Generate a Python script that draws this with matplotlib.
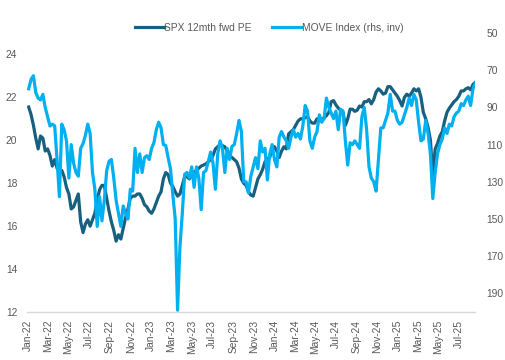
import numpy as np
import pandas as pd
import matplotlib
matplotlib.use("Agg")
from matplotlib import pyplot as plt
from matplotlib import dates as mdates

# weekly observations starting first trading week of 2022
start_date = "2022-01-03"

spx_pe = [
    21.55, 21.2, 20.7, 20.1, 19.6, 20.2, 20.1, 19.5, 19.6, 19.3,
    18.8, 19.1, 18.7, 18.6, 18.6, 18.3, 17.8, 17.5, 16.8, 16.9,
    17.2, 17.5, 16.2, 15.7, 16.1, 16.3, 16.0, 16.3, 16.6, 17.2,
    17.7, 17.9, 17.9, 17.3, 16.7, 16.2, 15.8, 15.3, 15.6, 15.4,
    15.9, 16.4, 16.8, 17.3, 17.4, 17.4, 17.5, 17.5, 17.3, 17.0,
    16.9, 16.7, 16.6, 16.8, 17.1, 17.4, 17.6, 18.2, 18.5, 18.4,
    18.0, 17.85, 17.6, 17.4, 17.5, 17.9, 18.3, 18.3, 18.2, 18.4,
    18.5, 18.6, 18.7, 18.8, 18.85, 18.9, 19.0, 19.1, 19.3, 19.6,
    19.7, 19.8, 19.75, 19.7, 19.5, 19.3, 19.2, 19.1, 19.0, 18.7,
    18.2, 18.0, 17.9, 17.6, 17.45, 17.4, 17.8, 18.2, 18.4, 18.65,
    19.0, 19.15, 19.2, 19.6, 19.7, 19.5, 19.2, 19.5, 19.7, 19.6,
    20.3, 20.4, 20.5, 20.7, 20.9, 21.0, 21.0, 21.05, 21.1, 20.9,
    20.8, 20.8, 21.0, 21.0, 20.95, 21.05, 21.15, 21.3, 21.8, 21.85,
    21.65, 21.5, 21.4, 21.3, 20.7, 21.0, 21.45, 21.45, 21.35, 21.4,
    21.6, 21.55, 21.8, 21.8, 21.9, 21.7, 21.9, 22.25, 22.4, 22.3,
    22.15, 22.2, 22.5, 22.5, 22.35, 22.2, 22.05, 21.85, 21.6, 22.0,
    22.15, 22.05, 22.2, 22.4, 22.3, 22.4, 22.0, 21.3, 21.0, 20.6,
    20.0, 18.3, 19.6, 19.85, 20.2, 20.4, 20.9, 21.3, 21.5, 21.65,
    21.8, 21.9, 22.05, 22.3, 22.3, 22.4, 22.45, 22.35, 22.6, 22.7,
]

move_index = [
    80, 75, 73, 82, 85, 86, 83, 90, 95, 100,
    99, 100, 118, 138, 99, 102, 108, 128, 110, 120,
    125, 127, 112, 109.5, 105, 99, 104, 125, 134, 154,
    138, 151, 140, 124, 119, 118, 128, 140, 147, 154,
    143, 147, 150, 134, 135, 112, 125, 115, 125, 117,
    116, 118, 112, 109, 102, 98, 101, 110, 110.5, 117,
    123, 137, 150, 199, 165, 147, 126, 125, 128, 122,
    133, 122, 128, 145, 125, 124, 119, 114, 120, 134,
    115, 108, 112, 125, 112, 118, 111, 110, 104, 97,
    103, 130, 130, 136, 127, 122, 117, 123, 108, 114,
    112, 129, 115, 110, 118, 122, 106, 103, 106, 108,
    112, 106, 102, 106, 104, 107, 100, 89, 92, 108,
    112, 106, 103, 94, 98, 96, 85, 90, 93, 96,
    92, 102, 91, 92, 108, 121, 109, 110, 108, 110,
    112, 95, 90, 102, 122, 128, 130, 135, 118, 101,
    101, 97, 93, 83, 92, 92, 97, 99, 98, 94,
    90, 85, 89, 83, 86, 98, 108, 107, 97, 104,
    115, 139, 125, 115, 110, 107, 101, 104, 99, 100,
    95, 93, 92, 88, 89, 86, 84, 89, 80, 77,
]

dates = pd.date_range(start_date, periods=len(spx_pe), freq="7D")

dark_blue = "#17607F"
light_blue = "#00B0F0"
grey = "#595959"

plt.rcParams["font.family"] = ["Liberation Sans", "DejaVu Sans"]
plt.rcParams["font.size"] = 7.4

fig = plt.figure(figsize=(5.06, 3.6), dpi=100)
ax = fig.add_axes([27 / 506, 1 - 312 / 360, (475 - 27) / 506, (312 - 33) / 360])
ax2 = ax.twinx()

l1, = ax.plot(dates, spx_pe, color=dark_blue, lw=2.3, solid_joinstyle="round")
l2, = ax2.plot(dates, move_index, color=light_blue, lw=2.3, solid_joinstyle="round")

ax.set_ylim(12, 25)
ax.set_yticks(np.arange(12, 25, 2))
ax2.set_ylim(200, 50)
ax2.set_yticks(np.arange(50, 200, 20))
ax.set_xlim(pd.Timestamp("2021-12-29"), pd.Timestamp("2025-08-17"))

ax.xaxis.set_major_locator(mdates.MonthLocator(bymonth=[1, 3, 5, 7, 9, 11]))
ax.xaxis.set_major_formatter(mdates.DateFormatter("%b-%y"))
for lab in ax.get_xticklabels():
    lab.set_rotation(90)

for a in (ax, ax2):
    for side in ("top", "left", "right", "bottom"):
        a.spines[side].set_visible(False)
    a.tick_params(length=0, colors=grey, labelsize=7.4)
ax.spines["bottom"].set_visible(True)
ax.spines["bottom"].set_color("#D9D9D9")
ax.spines["bottom"].set_linewidth(1.0)
# pads in points (1 px = 0.72 pt here)
ax.tick_params(axis="y", pad=7)
ax.tick_params(axis="x", pad=5.5)
ax2.tick_params(axis="y", pad=8)

fig.legend([l1, l2], ["SPX 12mth fwd PE", "MOVE Index (rhs, inv)"],
           loc="center", bbox_to_anchor=(0.532, 1 - 28 / 360), ncol=2,
           frameon=False, handlelength=2.8, handletextpad=0.05,
           columnspacing=2.0, fontsize=7.4, labelcolor=grey)

fig.savefig("out.png", dpi=100)
